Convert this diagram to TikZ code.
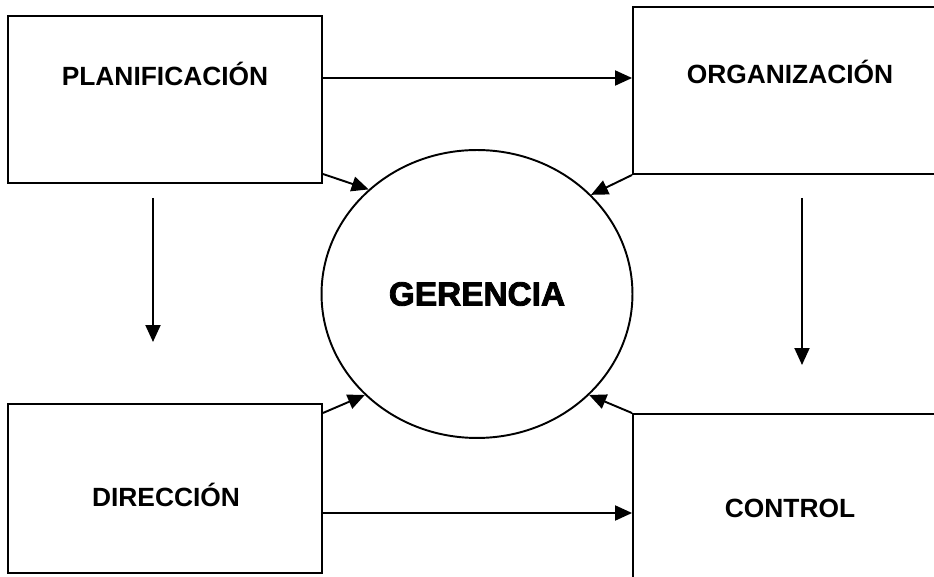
\documentclass[tikz,border=0pt]{standalone}
\usepackage{fontspec}
\setmainfont{Liberation Sans}
\newfontfamily\heavyfont[FakeBold=2.5]{Liberation Sans Bold}
\usetikzlibrary{shapes.geometric,arrows.meta}

\begin{document}
\begin{tikzpicture}[x=0.02cm,y=-0.02cm,line width=1.1pt,
    caja/.style={draw,rectangle,inner sep=0pt},
    titulo/.style={font=\fontsize{15}{18}\selectfont\bfseries},
    flecha/.style={-{Triangle[length=0.34cm,width=0.3cm]}}]
  \useasboundingbox (0,0) rectangle (934,577);
  % cajas
  \node[caja,minimum width=6.28cm,minimum height=3.34cm] (plan) at (165,99.5) {};
  \node[caja,minimum width=6.24cm,minimum height=3.34cm] (org) at (789,90.5) {};
  \node[caja,minimum width=6.28cm,minimum height=3.38cm] (dir) at (165,488.5) {};
  \node[caja,minimum width=6.24cm,minimum height=3.52cm] (ctrl) at (789,502) {};
  \node[titulo] (planT) at (165,74) {PLANIFICACIÓN};
  \node[titulo] (orgT) at (790,72) {ORGANIZACIÓN};
  \node[titulo] (dirT) at (166,495) {DIRECCIÓN};
  \node[titulo] (ctrlT) at (790,508) {CONTROL};
  % centro
  \node[draw,ellipse,inner sep=0pt,minimum width=6.22cm,minimum height=5.76cm,
        font=\fontsize{19}{22}\selectfont\heavyfont] (ger) at (477,294) {GERENCIA};
  % flechas
  \draw[flecha] (plan.east |- 0,78) -- (org.west |- 0,78);
  \draw[flecha] (dir.east |- 0,513) -- (ctrl.west |- 0,513);
  \draw[flecha] (153,198) coordinate (a1) -- (153,342) coordinate (a2);
  \draw[flecha] (802,198) coordinate (b1) -- (802,365) coordinate (b2);
  \draw[flecha] (plan.east |- 0,174) -- (ger.136);
  \draw[flecha] (org.south west) -- (ger.41);
  \draw[flecha] (dir.east |- 0,413) -- (ger.222);
  \draw[flecha] (ctrl.north west) -- (ger.318);
\end{tikzpicture}
\end{document}
